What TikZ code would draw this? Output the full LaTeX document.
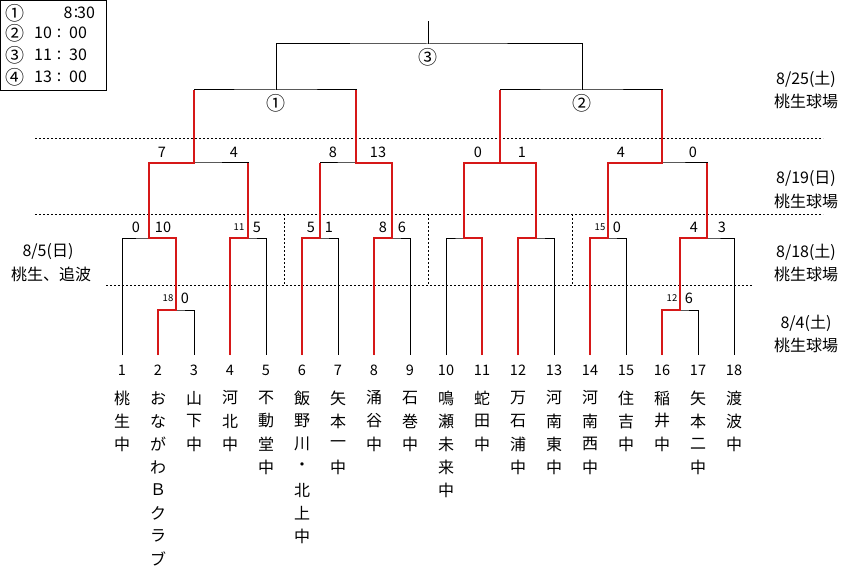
\documentclass[tikz,border=0pt]{standalone}
\usepackage{fontspec}
\setmainfont{Noto Sans CJK JP}
\definecolor{wred}{RGB}{214,24,24}
\newcommand\tname[2]{\foreach \c [count=\k] in {#2} \node[kanji] (n#1-\k) at ({122+36*(#1-1)},{398+23*(\k-1)}) {\c};}
\begin{document}
\begin{tikzpicture}[x=1pt,y=-1pt,
  base/.style={line width=1pt,black,line join=miter},
  win/.style={line width=2pt,wred,line join=miter},
  dotl/.style={line width=0.8pt,dash pattern=on 2pt off 2pt},
  lbl/.style={inner sep=0pt,font=\fontsize{14.5}{16}\selectfont},
  leg/.style={inner sep=0pt,font=\fontsize{16}{18}\selectfont},
  kanji/.style={inner sep=0pt,font=\fontsize{16}{18}\selectfont},
  ssc/.style={inner sep=0pt,font=\fontsize{9.5}{11}\selectfont},
  circ/.style={inner sep=0pt,font=\fontsize{19}{21}\selectfont}]
\useasboundingbox (0,0) rectangle (858,569);
\fill[white] (0,0) rectangle (858,569);

% legend
\draw[line width=1pt] (0.5,0.5) rectangle (106,90.5);
\foreach \y/\c [count=\k] in {13/①,33/②,55/③,77/④}
  \node[circ] (lc\k) at (15,\y) {\c};
\node[leg] (lh1) at (68,13) {8};
\node[leg] (lk1) at (76,13) {:};
\node[leg] (lm1) at (86,13) {30};
\foreach \y/\h/\m [count=\k from 2] in {33/10/00,55/11/30,77/13/00}{
  \node[leg] (lh\k) at (43,\y) {\h};
  \node[leg] (lk\k) at (59,\y) {:};
  \node[leg] (lm\k) at (78,\y) {\m};
}

% coordinates
\foreach \i in {1,...,18} \coordinate (t\i) at ({122+36*(\i-1)},355);
\coordinate (g23) at (176,310);
\coordinate (g1617) at (680,310);
\coordinate (h1) at (149,238);
\coordinate (h2) at (248,238);
\coordinate (h3) at (320,238);
\coordinate (h4) at (392,238);
\coordinate (h5) at (464,238);
\coordinate (h6) at (536,238);
\coordinate (h7) at (608,238);
\coordinate (h8) at (707,238);
\coordinate (q1) at (194,163);
\coordinate (q2) at (356,163);
\coordinate (q3) at (500,163);
\coordinate (q4) at (662,163);
\coordinate (s1) at (276,90);
\coordinate (s2) at (582,90);
\coordinate (f) at (428,44);
\coordinate (top) at (428,21);

% dotted separators
\draw[dotl] (35,138) -- (823,138);
\draw[dotl] (35,214) -- (823,214);
\draw[dotl] (106,285) -- (753,285);
\foreach \x in {284,428,572} \draw[dotl] (\x,214) -- (\x,285);

% black brackets
\draw[base] (t2) |- (g23) -| (t3);
\draw[base] (t16) |- (g1617) -| (t17);
\draw[base] (t1) |- (h1) -| (g23);
\draw[base] (t4) |- (h2) -| (t5);
\draw[base] (t6) |- (h3) -| (t7);
\draw[base] (t8) |- (h4) -| (t9);
\draw[base] (t10) |- (h5) -| (t11);
\draw[base] (t12) |- (h6) -| (t13);
\draw[base] (t14) |- (h7) -| (t15);
\draw[base] (g1617) |- (h8) -| (t18);
\draw[base] (h1) |- (q1) -| (h2);
\draw[base] (h3) |- (q2) -| (h4);
\draw[base] (h5) |- (q3) -| (h6);
\draw[base] (h7) |- (q4) -| (h8);
\draw[base] (q1) |- (s1) -| (q2);
\draw[base] (q3) |- (s2) -| (q4);
\draw[base] (s1) |- (f) -| (s2);
\draw[base] (f) -- (top);

% winner paths
\draw[win] (t2) |- (g23) |- (h1) |- (q1) -- (q1 |- s1);
\draw[win] (t4) |- (h2) -- (h2 |- q1);
\draw[win] (t6) |- (h3) -- (h3 |- q2);
\draw[win] (t8) |- (h4) |- (q2) -- (q2 |- s1);
\draw[win] (t11) |- (h5) |- (q3) -- (q3 |- s2);
\draw[win] (t12) |- (h6) |- (q3);
\draw[win] (t14) |- (h7) |- (q4) -- (q4 |- s2);
\draw[win] (t16) |- (g1617) |- (h8) -- (h8 |- q4);

% circled match numbers
\node[circ] (m1) at (276,103) {①};
\node[circ] (m2) at (582,103) {②};
\node[circ] (m3) at (428,57) {③};

% scores round 1
\node[ssc] (sa1) at (168,298) {18};
\node[lbl] (sa2) at (185,298) {0};
\node[ssc] (sb1) at (672,298) {12};
\node[lbl] (sb2) at (689,298) {6};
% scores round 2
\node[lbl] (r1a) at (136,227) {0};
\node[lbl] (r1b) at (163,227) {10};
\node[ssc] (r2a) at (239,227) {11};
\node[lbl] (r2b) at (257,227) {5};
\node[lbl] (r3a) at (311,227) {5};
\node[lbl] (r3b) at (329,227) {1};
\node[lbl] (r4a) at (383,227) {8};
\node[lbl] (r4b) at (402,227) {6};
\node[ssc] (r7a) at (600,227) {15};
\node[lbl] (r7b) at (617,227) {0};
\node[lbl] (r8a) at (694,227) {4};
\node[lbl] (r8b) at (722,227) {3};
% scores round 3
\node[lbl] (u1a) at (162,152) {7};
\node[lbl] (u1b) at (234,152) {4};
\node[lbl] (u2a) at (333,152) {8};
\node[lbl] (u2b) at (378,152) {13};
\node[lbl] (u3a) at (478,152) {0};
\node[lbl] (u3b) at (522,152) {1};
\node[lbl] (u4a) at (621,152) {4};
\node[lbl] (u4b) at (693,152) {0};

% date labels
\node[kanji] (d1) at (806,79) {8/25(土)};
\node[kanji] (d1b) at (806,101) {桃生球場};
\node[kanji] (d2) at (806,179) {8/19(日)};
\node[kanji] (d2b) at (806,201) {桃生球場};
\node[kanji] (d3) at (806,252) {8/18(土)};
\node[kanji] (d3b) at (806,274) {桃生球場};
\node[kanji] (d4) at (806,323) {8/4(土)};
\node[kanji] (d4b) at (806,345) {桃生球場};
\node[kanji] (d5) at (48,252) {8/5(日)};
\node[kanji] (d5b) at (51,274) {桃生、追波};

% team numbers
\foreach \i in {1,...,18} \node[lbl] (num\i) at ({122+36*(\i-1)},370) {\i};

% team names
\tname{1}{桃,生,中}
\tname{2}{お,な,が,わ,Ｂ,ク,ラ,ブ}
\tname{3}{山,下,中}
\tname{4}{河,北,中}
\tname{5}{不,動,堂,中}
\tname{6}{飯,野,川,・,北,上,中}
\tname{7}{矢,本,一,中}
\tname{8}{涌,谷,中}
\tname{9}{石,巻,中}
\tname{10}{鳴,瀬,未,来,中}
\tname{11}{蛇,田,中}
\tname{12}{万,石,浦,中}
\tname{13}{河,南,東,中}
\tname{14}{河,南,西,中}
\tname{15}{住,吉,中}
\tname{16}{稲,井,中}
\tname{17}{矢,本,二,中}
\tname{18}{渡,波,中}
\end{tikzpicture}
\end{document}
